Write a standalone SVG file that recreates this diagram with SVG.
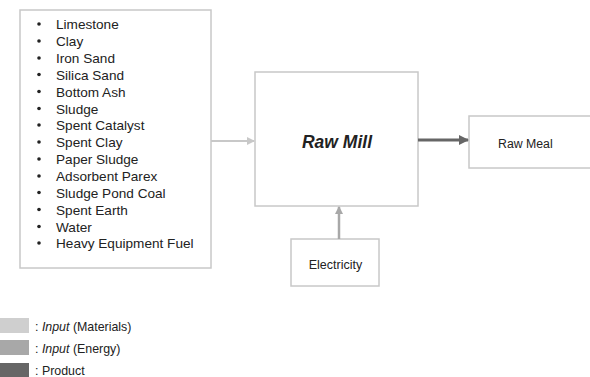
<svg xmlns="http://www.w3.org/2000/svg" width="590" height="377" viewBox="0 0 590 377">
<style>
.box{fill:#fff;stroke:#c8c8c8;stroke-width:1.5}
.t{font-family:"Liberation Sans",Arial,sans-serif;fill:#222}
.li{font-size:13.6px}
.lg{font-size:12.4px}
</style>
<defs>
<marker id="am" markerWidth="8" markerHeight="8" refX="7" refY="4" orient="auto" markerUnits="userSpaceOnUse"><path d="M0,0 L8,4 L0,8 z" fill="#c8c8c8"/></marker>
<marker id="ae" markerWidth="8" markerHeight="8" refX="7" refY="4" orient="auto" markerUnits="userSpaceOnUse"><path d="M0,0 L8,4 L0,8 z" fill="#a8a8a8"/></marker>
<marker id="ap" markerWidth="10" markerHeight="10" refX="9" refY="5" orient="auto" markerUnits="userSpaceOnUse"><path d="M0,0 L10,5 L0,10 z" fill="#666"/></marker>
</defs>
<rect width="590" height="377" fill="#fff"/>
<g id="materials">
<rect class="box" x="20" y="10" width="191" height="258"/>
<g fill="#222">
<circle cx="39" cy="24" r="1.8"/><circle cx="39" cy="41" r="1.8"/><circle cx="39" cy="58" r="1.8"/><circle cx="39" cy="74.5" r="1.8"/><circle cx="39" cy="91.5" r="1.8"/><circle cx="39" cy="108.5" r="1.8"/><circle cx="39" cy="125" r="1.8"/><circle cx="39" cy="142" r="1.8"/><circle cx="39" cy="159" r="1.8"/><circle cx="39" cy="176" r="1.8"/><circle cx="39" cy="192.5" r="1.8"/><circle cx="39" cy="209.5" r="1.8"/><circle cx="39" cy="226.5" r="1.8"/><circle cx="39" cy="243" r="1.8"/>
</g>
<text class="t li" x="56" y="29">Limestone</text>
<text class="t li" x="56" y="46">Clay</text>
<text class="t li" x="56" y="63">Iron Sand</text>
<text class="t li" x="56" y="79.5">Silica Sand</text>
<text class="t li" x="56" y="96.5">Bottom Ash</text>
<text class="t li" x="56" y="113.5">Sludge</text>
<text class="t li" x="56" y="130">Spent Catalyst</text>
<text class="t li" x="56" y="147">Spent Clay</text>
<text class="t li" x="56" y="164">Paper Sludge</text>
<text class="t li" x="56" y="181">Adsorbent Parex</text>
<text class="t li" x="56" y="197.5">Sludge Pond Coal</text>
<text class="t li" x="56" y="214.5">Spent Earth</text>
<text class="t li" x="56" y="231.5">Water</text>
<text class="t li" x="56" y="248">Heavy Equipment Fuel</text>
</g>
<g id="rawmill">
<rect class="box" x="255" y="72" width="163" height="134"/>
<text class="t" x="337" y="148" text-anchor="middle" font-size="17.5" font-weight="bold" font-style="italic">Raw Mill</text>
</g>
<g id="rawmeal">
<rect class="box" x="469" y="116" width="125" height="52" stroke="#888"/>
<text class="t" x="498" y="148" font-size="12.3">Raw Meal</text>
</g>
<g id="electricity">
<rect class="box" x="291" y="239" width="88" height="47"/>
<text class="t" x="335.5" y="269" text-anchor="middle" font-size="12.5">Electricity</text>
</g>
<g id="connectors">
<line x1="211" y1="141" x2="254" y2="141" stroke="#c8c8c8" stroke-width="2" marker-end="url(#am)"/>
<line x1="339" y1="239" x2="339" y2="207" stroke="#a8a8a8" stroke-width="2.5" marker-end="url(#ae)"/>
<line x1="418" y1="140" x2="468" y2="140" stroke="#666" stroke-width="3" marker-end="url(#ap)"/>
</g>
<g id="legend">
<rect x="0" y="318" width="29" height="15" fill="#cfcfcf"/>
<rect x="0" y="340" width="29" height="15" fill="#a8a8a8"/>
<rect x="0" y="363" width="29" height="14" fill="#666"/>
<text class="t lg" x="35" y="330.5">: <tspan font-style="italic">Input</tspan> (Materials)</text>
<text class="t lg" x="35" y="352.5">: <tspan font-style="italic">Input</tspan> (Energy)</text>
<text class="t lg" x="35" y="374.5">: Product</text>
</g>
</svg>
